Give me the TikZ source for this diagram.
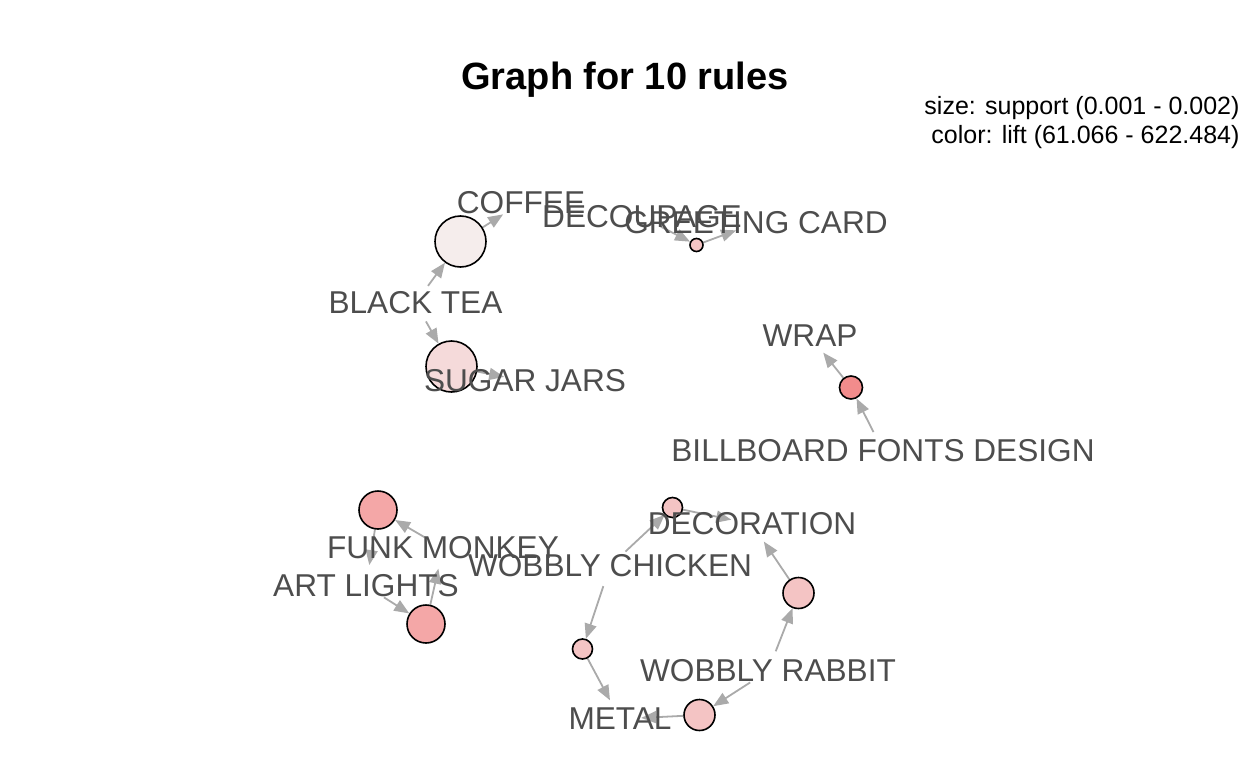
\documentclass[tikz,border=0pt]{standalone}
\usepackage{fontspec}
\setmainfont{Liberation Sans}
\usetikzlibrary{arrows.meta}
\pgfdeclarelayer{bg}
\pgfsetlayers{bg,main}
\definecolor{edgegray}{RGB}{170,170,170}
\definecolor{labelgray}{RGB}{77,77,77}
\definecolor{liftA}{RGB}{245,237,236}
\definecolor{liftB}{RGB}{245,218,218}
\definecolor{liftC}{RGB}{244,196,196}
\definecolor{liftD}{RGB}{242,140,140}
\definecolor{liftE}{RGB}{244,167,167}

\begin{document}
\begin{tikzpicture}[x=1pt, y=-1pt,
    rule/.style={circle, draw=black, line width=1.6pt, inner sep=0pt},
    item/.style={circle, minimum size=42pt, inner sep=0pt},
    itemtext/.style={text=labelgray, font=\fontsize{31.6}{32}\selectfont, inner sep=0pt},
    rel/.style={draw=edgegray, line width=1.8pt, -{Triangle[length=15pt,width=12pt]}}]
    \useasboundingbox (0,0) rectangle (1248,768);
    \node[anchor=base, font=\fontsize{38}{38}\selectfont\bfseries] (title) at (625,89) {Graph for 10 rules};
    \node[anchor=base east, font=\fontsize{25}{25}\selectfont] (legsize) at (1243,114) {size: support (0.001 - 0.002)};
    \node[anchor=base east, font=\fontsize{25}{25}\selectfont] (legcolor) at (1243,143) {color: lift (61.066 - 622.484)};
    % rules
    \node[rule, fill=liftA, minimum size=51pt] (r1) at (460.5,241.5) {};
    \node[rule, fill=liftB, minimum size=51pt] (r2) at (451.5,366.5) {};
    \node[rule, fill=liftC, minimum size=13pt] (r3) at (696.5,245) {};
    \node[rule, fill=liftD, minimum size=23pt] (r4) at (851,387.5) {};
    \node[rule, fill=liftE, minimum size=38pt] (r5) at (378,510) {};
    \node[rule, fill=liftE, minimum size=38pt] (r6) at (426,624) {};
    \node[rule, fill=liftC, minimum size=20pt] (r7) at (672.5,507.5) {};
    \node[rule, fill=liftC, minimum size=31pt] (r8) at (798.5,593) {};
    \node[rule, fill=liftC, minimum size=20pt] (r9) at (582.5,649) {};
    \node[rule, fill=liftC, minimum size=31pt] (r10) at (699.5,715) {};
    % items
    \node[item, label={[itemtext]center:COFFEE}] (coffee) at (521,203) {};
    \node[item, label={[itemtext]center:DECOUPAGE}] (decoupage) at (642,217) {};
    \node[item, label={[itemtext]center:GREETING CARD}] (greeting) at (756,223) {};
    \node[item, label={[itemtext]center:BLACK TEA}] (blacktea) at (415.5,303) {};
    \node[item, label={[itemtext]center:SUGAR JARS}] (sugarjars) at (525,381) {};
    \node[item, label={[itemtext]center:WRAP}] (wrap) at (810,336) {};
    \node[item, label={[itemtext]center:BILLBOARD FONTS DESIGN}] (billboard) at (883,451) {};
    \node[item, label={[itemtext]center:DECORATION}] (decoration) at (752,524) {};
    \node[item, label={[itemtext]center:FUNK MONKEY}] (funkmonkey) at (443,548) {};
    \node[item, label={[itemtext]center:WOBBLY CHICKEN}] (chicken) at (610,566) {};
    \node[item, label={[itemtext]center:ART LIGHTS}] (artlights) at (366,586) {};
    \node[item, label={[itemtext]center:WOBBLY RABBIT}] (rabbit) at (768,671) {};
    \node[item, label={[itemtext]center:METAL}] (metal) at (620,719) {};
    % edges
    \begin{pgfonlayer}{bg}
    \draw[rel] (blacktea) -- (r1);
    \draw[rel] (r1) -- (coffee);
    \draw[rel] (blacktea) -- (r2);
    \draw[rel] (r2) -- (sugarjars);
    \draw[rel] (decoupage) -- (r3);
    \draw[rel] (r3) -- (greeting);
    \draw[rel] (billboard) -- (r4);
    \draw[rel] (r4) -- (wrap);
    \draw[rel] (funkmonkey) -- (r5);
    \draw[rel] (r5) -- (artlights);
    \draw[rel] (artlights) -- (r6);
    \draw[rel] (r6) -- (funkmonkey);
    \draw[rel] (chicken) -- (r7);
    \draw[rel] (r7) -- (decoration);
    \draw[rel] (rabbit) -- (r8);
    \draw[rel] (r8) -- (decoration);
    \draw[rel] (chicken) -- (r9);
    \draw[rel] (r9) -- (metal);
    \draw[rel] (rabbit) -- (r10);
    \draw[rel] (r10) -- (metal);
    \end{pgfonlayer}
\end{tikzpicture}
\end{document}
